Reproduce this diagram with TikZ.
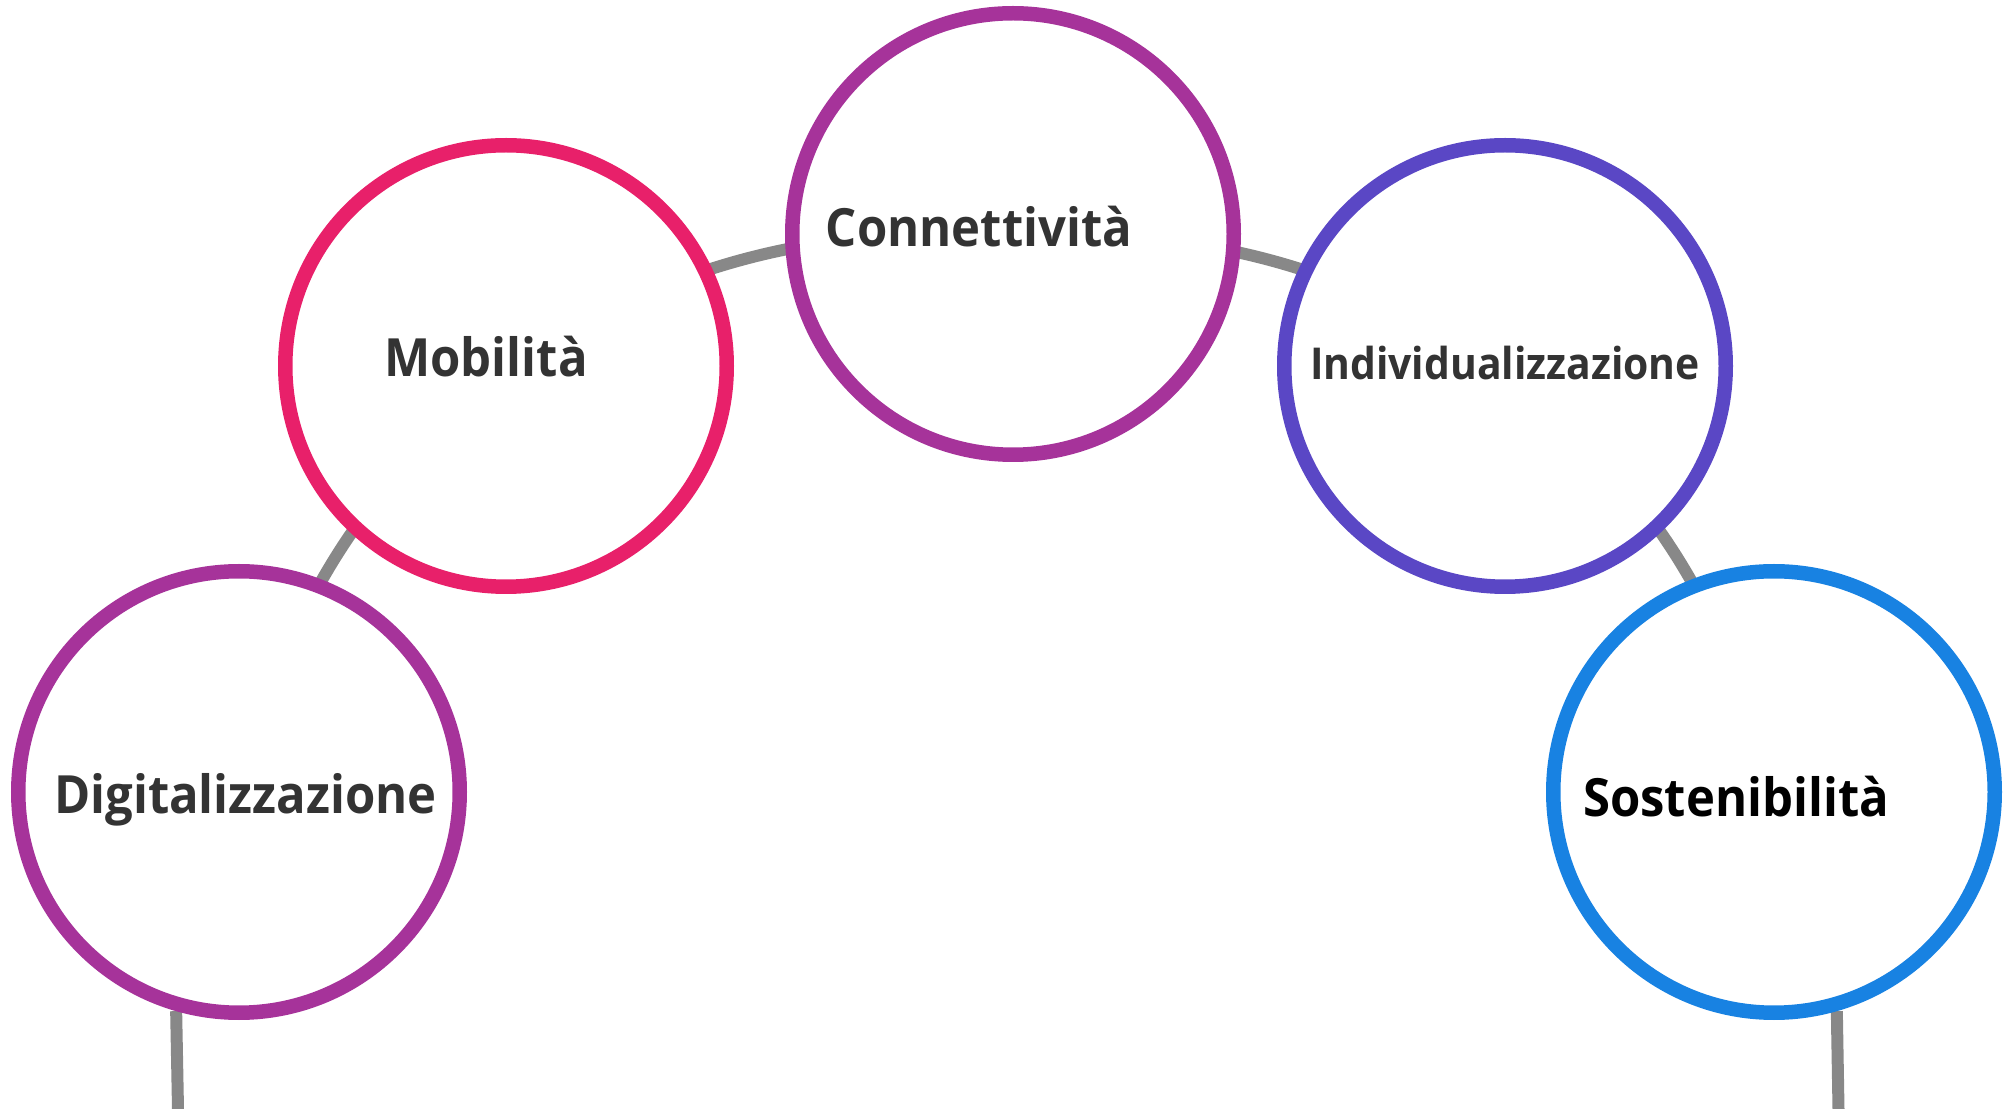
\documentclass[tikz,border=0pt]{standalone}
\usepackage{fontspec}
\setmainfont{Open Sans}[FakeStretch=0.93]
\usepackage{tikz}
\usetikzlibrary{positioning, backgrounds, calc}

\definecolor{ringred}{RGB}{232,32,106}
\definecolor{ringpurple}{RGB}{166,51,154}
\definecolor{ringindigo}{RGB}{90,71,197}
\definecolor{ringblue}{RGB}{24,130,226}
\definecolor{linkgray}{RGB}{136,136,136}
\definecolor{textgray}{RGB}{51,51,51}

\begin{document}
\begin{tikzpicture}[
        bubble/.style={
            circle,
            draw=#1,
            line width=0.145cm,
            fill=white,
            minimum size=4.415cm,
            inner sep=0pt
        },
        tag/.style={
            anchor=base,
            inner sep=0pt,
            text=textgray,
            font=\bfseries\fontsize{15}{18}\selectfont
        },
        small tag/.style={
            tag,
            font=\bfseries\fontsize{12.5}{15}\selectfont
        },
        link/.style={
            draw=linkgray,
            line width=0.12cm
        }
    ]
    \useasboundingbox (0,0) rectangle (20.08,-11.09);

    % Kreise
    \node[bubble=ringpurple] (D) at (2.39,-7.92) {};
    \node[bubble=ringred]    (M) at (5.06,-3.66) {};
    \node[bubble=ringpurple] (C) at (10.13,-2.34) {};
    \node[bubble=ringindigo] (I) at (15.05,-3.66) {};
    \node[bubble=ringblue]   (S) at (17.74,-7.92) {};

    % Beschriftungen
    \node[tag] (DL) at ([shift={(0.065,-0.22)}]D.center) {Digitalizzazione};
    \node[tag] (ML) at ([shift={(-0.20,-0.11)}]M.center) {Mobilità};
    \node[tag] (CL) at ([shift={(-0.34,-0.13)}]C.center) {Connettività};
    \node[small tag] (IL) at ([shift={(0,-0.14)}]I.center) {Individualizzazione};
    \node[tag,text=black] (SL) at ([shift={(-0.38,-0.25)}]S.center) {Sostenibilità};

    % Verbindungen
    \begin{scope}[on background layer]
        \draw[link] (D.center) to[bend left=16.9] (M.center);
        \draw[link] (M.center) to[bend left=16.4] (C.center);
        \draw[link] (C.center) to[bend left=16.1] (I.center);
        \draw[link] (I.center) to[bend left=17.1] (S.center);

        \coordinate (Dfoot) at (1.78,-11.09);
        \coordinate (Sfoot) at (18.385,-11.09);
        \draw[link] (D.254) -- (Dfoot);
        \draw[link] (S.286) -- (Sfoot);
    \end{scope}
\end{tikzpicture}
\end{document}
